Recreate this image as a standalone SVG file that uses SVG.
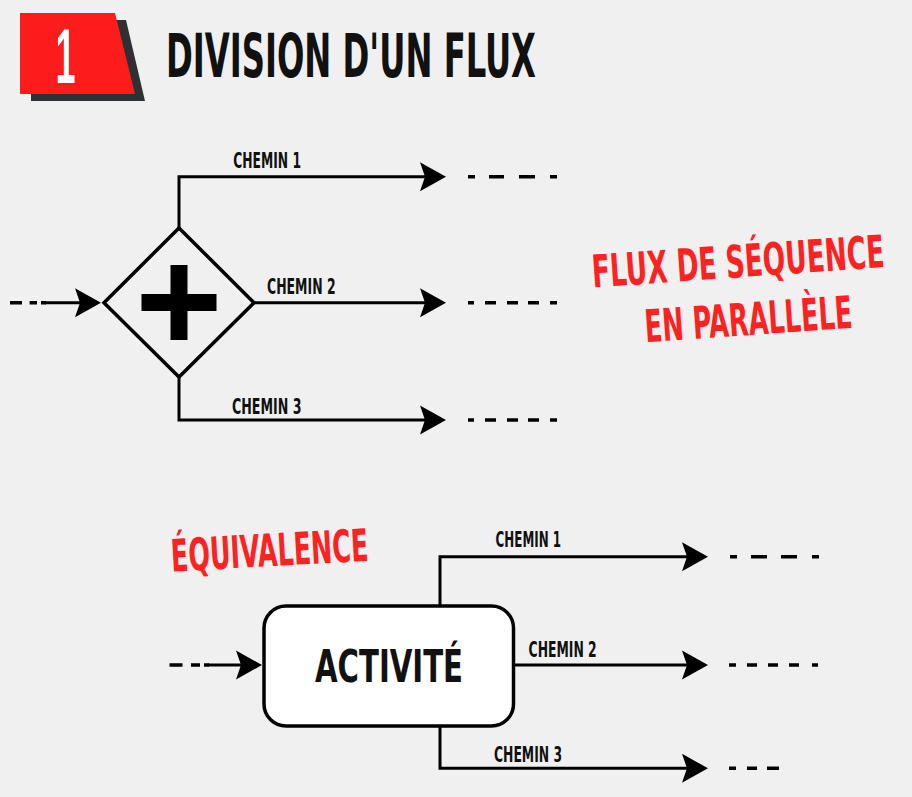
<svg xmlns="http://www.w3.org/2000/svg" width="912" height="797" viewBox="0 0 912 797">
<defs>
<style>
.bg{fill:#f0f0f0}
.t{font-family:"DejaVu Sans Condensed","DejaVu Sans","Liberation Sans Narrow","Liberation Sans",sans-serif;font-weight:bold;font-stretch:condensed}
.lbl{font-size:21px;fill:#111}
.red{fill:#fd2222;font-size:45px}
.red2{fill:#fd2222;font-size:30px}
.ln{fill:none;stroke:#000;stroke-width:3}
.dash{fill:none;stroke:#000;stroke-width:3.5}
</style>
<marker id="ah" markerUnits="userSpaceOnUse" viewBox="-12 -16 30 32" refX="0" refY="0" markerWidth="30" markerHeight="32" orient="auto">
<path d="M16,0 L-10,-14.5 L-5,0 L-10,14.5 Z" fill="#000"/>
</marker>
</defs>
<rect class="bg" x="0" y="0" width="912" height="797"/>

<g id="header">
<polygon points="31,20 126,20 145,101 31,101" fill="#2f3033"/>
<polygon points="20,13 115,13 135,94 20,94" fill="#fd1c1c"/>
<text x="65.5" y="82.5" font-family="'Liberation Sans',Arial,sans-serif" font-weight="bold" font-size="78" fill="#fff" text-anchor="middle" textLength="20" lengthAdjust="spacingAndGlyphs">1</text>
<text class="t" x="166" y="76.5" font-size="60" fill="#111" textLength="370" lengthAdjust="spacingAndGlyphs">DIVISION D'UN FLUX</text>
</g>

<g id="gateway">
<polygon points="179,228 254,302.7 179,377 104,302.7" fill="#f0f0f0" stroke="#000" stroke-width="3.5" stroke-linejoin="miter"/>
<rect x="141.5" y="294" width="75" height="17" fill="#000"/>
<rect x="170.5" y="265" width="17" height="75" fill="#000"/>
</g>

<g id="activity">
<rect x="264" y="606" width="249.5" height="120" rx="22" ry="22" fill="#fff" stroke="#000" stroke-width="3.5"/>
<text class="t" x="389" y="681.7" font-size="45" fill="#111" text-anchor="middle" textLength="148" lengthAdjust="spacingAndGlyphs">ACTIVITÉ</text>
</g>

<g id="connectors">
<line class="dash" x1="10" y1="302.7" x2="46" y2="302.7" stroke-dasharray="12 7.6 7.4 4 10"/>
<line class="ln" x1="45" y1="302.7" x2="85" y2="302.7" marker-end="url(#ah)"/>
<polyline class="ln" points="179,228 179,176.7 430,176.7" marker-end="url(#ah)"/>
<line class="ln" x1="254" y1="302.7" x2="430" y2="302.7" marker-end="url(#ah)"/>
<polyline class="ln" points="179,377 179,420 430,420" marker-end="url(#ah)"/>
<line class="dash" x1="468" y1="176.7" x2="557" y2="176.7" stroke-dasharray="7 14 15 15 16 15 7"/>
<line class="dash" x1="468" y1="302.7" x2="557" y2="302.7" stroke-dasharray="6 11 11 11 11 10 11 11 7"/>
<line class="dash" x1="468" y1="420" x2="557" y2="420" stroke-dasharray="6 11 11 11 11 10 11 11 7"/>
<line class="dash" x1="169.5" y1="665" x2="209" y2="665" stroke-dasharray="13 8.5 9 4 10"/>
<line class="ln" x1="208" y1="665" x2="246" y2="665" marker-end="url(#ah)"/>
<polyline class="ln" points="440,606 440,556.7 692,556.7" marker-end="url(#ah)"/>
<line class="ln" x1="513.5" y1="665" x2="692" y2="665" marker-end="url(#ah)"/>
<polyline class="ln" points="440,726 440,768.3 692,768.3" marker-end="url(#ah)"/>
<line class="dash" x1="730" y1="556.7" x2="819" y2="556.7" stroke-dasharray="7 14 16 14 16 15 7"/>
<line class="dash" x1="729" y1="665" x2="818" y2="665" stroke-dasharray="7 11 10 11 10 11 10 13 6"/>
<line class="dash" x1="729" y1="768.3" x2="779" y2="768.3" stroke-dasharray="7 11 10 10 12"/>
</g>

<g id="labels">
<text class="t lbl" x="233.3" y="168.3" textLength="67.7" lengthAdjust="spacingAndGlyphs">CHEMIN 1</text>
<text class="t lbl" x="267" y="294" textLength="68.6" lengthAdjust="spacingAndGlyphs">CHEMIN 2</text>
<text class="t lbl" x="232" y="414" textLength="69.5" lengthAdjust="spacingAndGlyphs">CHEMIN 3</text>
<text class="t lbl" x="495.6" y="547" textLength="65.4" lengthAdjust="spacingAndGlyphs">CHEMIN 1</text>
<text class="t lbl" x="528.6" y="656.7" textLength="68.1" lengthAdjust="spacingAndGlyphs">CHEMIN 2</text>
<text class="t lbl" x="494" y="761.7" textLength="68" lengthAdjust="spacingAndGlyphs">CHEMIN 3</text>
</g>

<g id="note-parallel" transform="rotate(-4 744 305)">
<text class="t red2" transform="translate(741 277) scale(1 1.5)" x="0" y="0" text-anchor="middle" textLength="293" lengthAdjust="spacingAndGlyphs">FLUX DE SÉQUENCE</text>
<text class="t red2" transform="translate(747.4 335.3) scale(1 1.5)" x="0" y="0" text-anchor="middle" textLength="208" lengthAdjust="spacingAndGlyphs">EN PARALLÈLE</text>
</g>

<g id="note-equivalence" transform="rotate(-3.2 270.4 566.2)">
<text class="t red" x="270.4" y="566.2" font-size="42.5" text-anchor="middle" textLength="197.5" lengthAdjust="spacingAndGlyphs">ÉQUIVALENCE</text>
</g>
</svg>
